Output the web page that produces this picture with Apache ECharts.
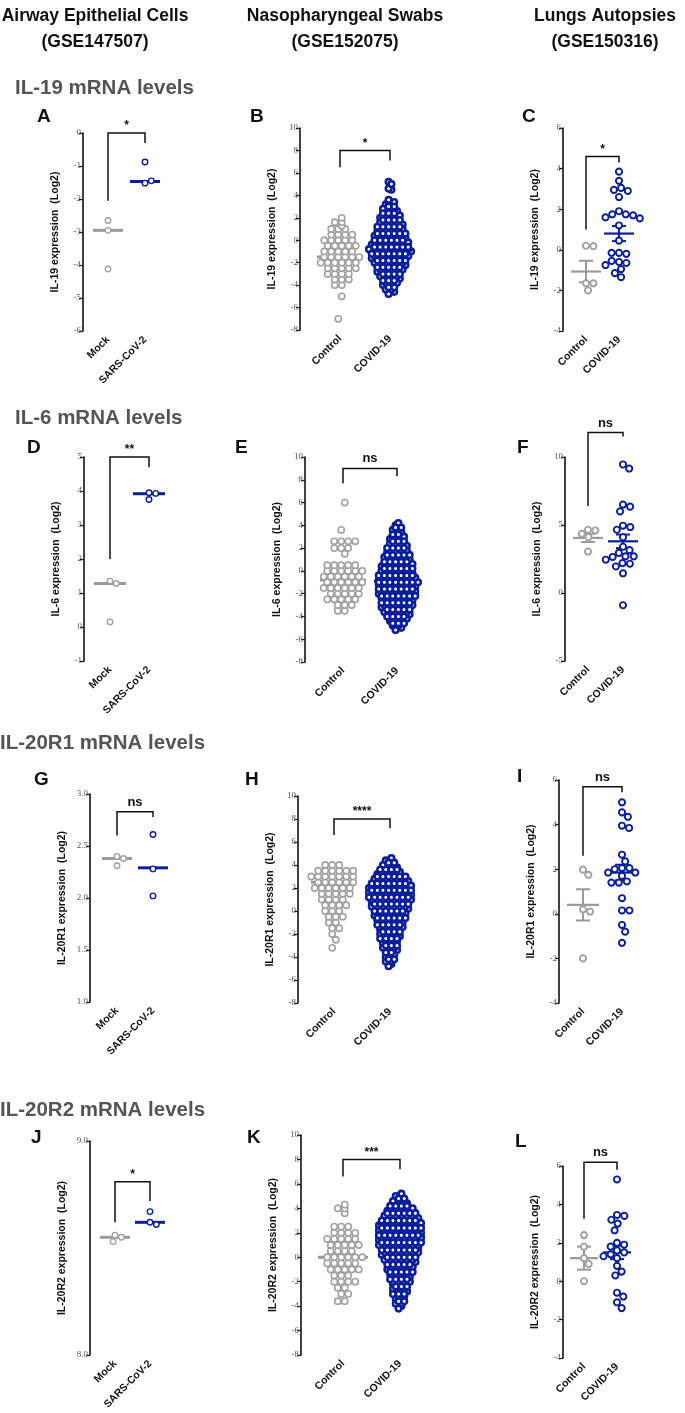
<!DOCTYPE html>
<html><head><meta charset="utf-8">
<script src="https://cdn.jsdelivr.net/npm/echarts@6/dist/echarts.min.js"></script>
<style>html,body{margin:0;padding:0;background:#fff}#c{width:685px;height:1413px}</style>
</head><body><div id="c"></div><script>
// ---------------- DATA ----------------
const colHeaders = ['Airway Epithelial Cells\n(GSE147507)', 'Nasopharyngeal Swabs\n(GSE152075)', 'Lungs Autopsies\n(GSE150316)'];
const rowTitles = ['IL-19 mRNA levels', 'IL-6 mRNA levels', 'IL-20R1 mRNA levels', 'IL-20R2 mRNA levels'];
const yNames = ['IL-19 expression  (Log2)', 'IL-6 expression  (Log2)', 'IL-20R1 expression  (Log2)', 'IL-20R2 expression  (Log2)'];
const cellCats = ['Mock', 'SARS-CoV-2'];
const patientCats = ['Control', 'COVID-19'];
// axis ranges [min, max, interval]
const A_axis = [-6, 0, 1], B_axis = [-8, 10, 2], C_axis = [-4, 6, 2];
const D_axis = [-1, 5, 1], E_axis = [-8, 10, 2], F_axis = [-5, 10, 5];
const G_axis = [1, 3, 0.5], H_axis = [-8, 10, 2], I_axis = [-4, 6, 2];
const J_axis = [8, 9, 1], K_axis = [-8, 10, 2], L_axis = [-4, 6, 2];

// Panel A (GSE147507, IL-19)
const A_ctrl = [-2.65, -2.95, -4.12];
const A_case = [-0.88, -1.52, -1.45];
const A_mid = [-2.95, -1.47];
const A_sig = ['*', 0.0, -2.05, -0.3];
// Panel B (GSE152075, IL-19) — [value, count]
const B_ctrl = [[2.0,1],[1.6,2],[1.3,1],[1.0,3],[0.5,4],[0.0,5],[-0.5,5],[-1.0,5],[-1.5,6],[-2.0,6],[-2.5,5],[-3.0,4],[-3.5,3],[-4.0,2],[-5.0,1],[-7.0,1]];
const B_case = [[5.2,1],[5.0,1],[4.6,1],[4.5,1],[3.6,1],[3.4,2],[3.2,2],[3.0,2],[2.8,3],[2.6,3],[2.4,3],[2.2,4],[2.0,4],[1.8,4],[1.6,4],[1.4,5],[1.2,5],[1.0,5],[0.8,5],[0.6,6],[0.4,6],[0.2,6],[0.0,6],[-0.2,7],[-0.4,7],[-0.6,7],[-0.8,8],[-1.0,8],[-1.2,7],[-1.4,7],[-1.6,7],[-1.8,6],[-2.0,6],[-2.2,6],[-2.4,5],[-2.6,5],[-2.8,5],[-3.0,4],[-3.2,4],[-3.4,4],[-3.6,3],[-3.8,3],[-4.0,3],[-4.2,2],[-4.4,2],[-4.6,2],[-4.8,1]];
const B_mid = [-1.5, -0.85];
const B_sig = ['*', 8, 6.5, 7.1];
// Panel C (GSE150316, IL-19)
const C_ctrl = [0.2, 0.18, -1.65, -1.65, -2.0];
const C_case = [3.85, 3.4, 3.05, 2.95, 2.9, 2.6, 1.9, 1.75, 1.75, 1.7, 1.6, 1.55, 1.2, 0.45, -0.15, -0.2, -0.15, -0.6, -0.65, -0.55, -0.75, -0.95, -1.15, -1.35];
const C_mean = [-1.07, 0.8], C_sem = [0.53, 0.37];
const C_sig = ['*', 4.6, 1.0, 4.3];
// Panel D
const D_ctrl = [1.35, 1.28, 0.15];
const D_case = [3.95, 3.93, 3.75];
const D_mid = [1.28, 3.92];
const D_sig = ['**', 5.0, 2.0, 4.7];
// Panel E
const E_ctrl = [[6.0,1],[3.6,1],[2.6,4],[2.0,3],[1.5,1],[0.5,5],[0.0,6],[-0.5,6],[-1.0,6],[-1.5,6],[-2.0,5],[-2.5,5],[-3.0,3],[-3.5,2]];
const E_case = [[4.2,1],[4.0,1],[3.8,2],[3.6,2],[3.4,2],[3.2,2],[3.0,3],[2.8,3],[2.6,3],[2.4,3],[2.2,4],[2.0,4],[1.8,4],[1.6,4],[1.4,5],[1.2,5],[1.0,5],[0.8,5],[0.6,6],[0.4,6],[0.2,6],[0.0,6],[-0.2,6],[-0.4,7],[-0.6,7],[-0.8,7],[-1.0,8],[-1.2,7],[-1.4,7],[-1.6,7],[-1.8,7],[-2.0,7],[-2.2,7],[-2.4,6],[-2.6,6],[-2.8,6],[-3.0,6],[-3.2,6],[-3.4,5],[-3.6,5],[-3.8,5],[-4.0,4],[-4.2,4],[-4.4,3],[-4.6,3],[-4.8,2],[-5.0,2],[-5.2,1]];
const E_mid = [-0.8, -0.9];
const E_sig = ['ns', 9.0, 7.7, 8.3];
// Panel F
const F_ctrl = [4.65, 4.6, 4.35, 4.1, 3.05];
const F_case = [9.45, 9.15, 6.5, 6.35, 6.0, 4.95, 4.85, 4.65, 4.1, 3.4, 3.15, 2.95, 2.7, 2.7, 2.65, 2.45, 2.2, 2.15, 1.95, 1.45, -0.9];
const F_mean = [4.05, 3.8], F_sem = [0.3, 0.5];
const F_sig = ['ns', 11.8, 6.4, 11.5];
// Panel G
const G_ctrl = [2.40, 2.38, 2.31];
const G_case = [2.61, 2.28, 2.02];
const G_mid = [2.38, 2.29];
const G_sig = ['ns', 2.83, 2.6, 2.78];
// Panel H
const H_ctrl = [[4.0,3],[3.5,6],[3.0,7],[2.5,6],[2.0,6],[1.5,5],[1.0,4],[0.5,4],[0.0,3],[-0.5,3],[-1.0,2],[-1.5,2],[-2.0,1],[-2.5,1],[-3.2,1]];
const H_case = [[4.6,1],[4.4,2],[4.2,2],[4.0,3],[3.8,3],[3.6,4],[3.4,4],[3.2,5],[3.0,6],[2.8,6],[2.6,7],[2.4,7],[2.2,8],[2.0,8],[1.8,8],[1.6,8],[1.4,8],[1.2,8],[1.0,8],[0.8,7],[0.6,7],[0.4,7],[0.2,7],[0.0,6],[-0.2,6],[-0.4,6],[-0.6,6],[-0.8,5],[-1.0,5],[-1.2,5],[-1.4,5],[-1.6,4],[-1.8,4],[-2.0,4],[-2.2,4],[-2.4,4],[-2.6,3],[-2.8,3],[-3.0,3],[-3.2,3],[-3.4,3],[-3.6,2],[-3.8,2],[-4.0,2],[-4.2,2],[-4.4,2],[-4.6,1],[-4.8,1]];
const H_mid = [2.5, 1.2];
const H_sig = ['****', 8, 6.6, 7.2];
// Panel I
const I_ctrl = [1.98, 1.75, 0.2, 0.1, -2.0];
const I_case = [5.0, 4.55, 4.35, 3.95, 3.85, 2.65, 2.35, 2.05, 2.05, 2.0, 1.85, 1.85, 1.7, 1.45, 1.4, 1.4, 0.7, 0.15, 0.15, -0.5, -0.8, -1.3];
const I_mean = [0.4, 1.85], I_sem = [0.7, 0.35];
const I_sig = ['ns', 5.7, 2.6, 5.45];
// Panel J
const J_ctrl = [8.56, 8.55, 8.53];
const J_case = [8.67, 8.62, 8.61];
const J_mid = [8.55, 8.62];
const J_sig = ['*', 8.81, 8.62, 8.72];
// Panel K
const K_ctrl = [[4.3,1],[4.0,2],[3.6,1],[2.5,3],[2.0,4],[1.5,5],[1.0,5],[0.5,4],[0.0,6],[-0.5,5],[-1.0,5],[-1.5,3],[-2.0,4],[-2.5,2],[-3.0,2],[-3.6,2]];
const K_case = [[5.2,1],[5.0,2],[4.8,2],[4.6,3],[4.4,3],[4.2,4],[4.0,5],[3.8,5],[3.6,6],[3.4,6],[3.2,7],[3.0,7],[2.8,8],[2.6,8],[2.4,8],[2.2,8],[2.0,8],[1.8,8],[1.6,8],[1.4,8],[1.2,8],[1.0,8],[0.8,7],[0.6,7],[0.4,7],[0.2,7],[0.0,6],[-0.2,6],[-0.4,6],[-0.6,5],[-0.8,5],[-1.0,5],[-1.2,5],[-1.4,4],[-1.6,4],[-1.8,4],[-2.0,4],[-2.2,3],[-2.4,3],[-2.6,3],[-2.8,3],[-3.0,3],[-3.2,2],[-3.4,2],[-3.6,2],[-3.8,2],[-4.0,1],[-4.2,1]];
const K_mid = [0.0, 1.7];
const K_sig = ['***', 8, 6.6, 7.2];
// Panel L
const L_ctrl = [2.4, 1.8, 1.2, 0.9, 0.0];
const L_case = [5.3, 3.45, 3.4, 3.2, 3.0, 2.65, 2.0, 1.9, 1.8, 1.6, 1.5, 1.4, 1.3, 1.2, 0.8, 0.5, 0.3, -0.6, -0.8, -1.1, -1.4];
const L_mean = [1.2, 1.5], L_sem = [0.6, 0.35];
const L_sig = ['ns', 6.2, 3.25, 5.8];

// ---------------- LAYOUT / STYLE ----------------
const GREY = '#a2a2a2', GREY_LINE = '#9a9a9a', BLUE = '#0b1f9a';
const SANS = '"Liberation Sans", Arial, sans-serif';
const SERIF = '"Liberation Serif", "Times New Roman", serif';
const panels = [
  {id:'A', L:83,  T:133,  B:331,  P1:108, P2:145, axis:A_axis, row:0, cats:cellCats, ctrl:A_ctrl, cas:A_case, mid:A_mid, sig:A_sig, d:5.5, bw:1.4, hw:15, lt:[45,117]},
  {id:'B', L:300, T:128,  B:330,  P1:340, P2:390, axis:B_axis, row:0, cats:patientCats, ctrl:B_ctrl, cas:B_case, mid:B_mid, sig:B_sig, d:6.2, bw:1.6, hw:23, blob:true, lt:[258,117]},
  {id:'C', L:563, T:128,  B:331,  P1:586, P2:619, axis:C_axis, row:0, cats:patientCats, ctrl:C_ctrl, cas:C_case, mean:C_mean, sem:C_sem, sig:C_sig, d:6.2, bw:1.9, hw:15, lt:[530,117]},
  {id:'D', L:84,  T:457,  B:661,  P1:110, P2:149, axis:D_axis, row:1, cats:cellCats, ctrl:D_ctrl, cas:D_case, mid:D_mid, sig:D_sig, d:5.5, bw:1.4, hw:16, lt:[35,448]},
  {id:'E', L:305, T:457,  B:662,  P1:343, P2:397, axis:E_axis, row:1, cats:patientCats, ctrl:E_ctrl, cas:E_case, mid:E_mid, sig:E_sig, d:6.2, bw:1.6, hw:23, blob:true, lt:[243,448]},
  {id:'F', L:565, T:457,  B:661,  P1:588, P2:623, axis:F_axis, row:1, cats:patientCats, ctrl:F_ctrl, cas:F_case, mean:F_mean, sem:F_sem, sig:F_sig, d:6.2, bw:1.9, hw:15, lt:[525,448]},
  {id:'G', L:90,  T:794,  B:1002, P1:117, P2:153, axis:G_axis, row:2, cats:cellCats, ctrl:G_ctrl, cas:G_case, mid:G_mid, sig:G_sig, d:5.5, bw:1.4, hw:15, dec:1, lt:[42,780]},
  {id:'H', L:298, T:796,  B:1003, P1:334, P2:390, axis:H_axis, row:2, cats:patientCats, ctrl:H_ctrl, cas:H_case, mid:H_mid, sig:H_sig, d:6.2, bw:1.6, hw:23, blob:true, lt:[253,780]},
  {id:'I', L:559, T:780,  B:1003, P1:583, P2:622, axis:I_axis, row:2, cats:patientCats, ctrl:I_ctrl, cas:I_case, mean:I_mean, sem:I_sem, sig:I_sig, d:6.2, bw:1.9, hw:16, lt:[525,777]},
  {id:'J', L:90,  T:1141, B:1355, P1:115, P2:150, axis:J_axis, row:3, cats:cellCats, ctrl:J_ctrl, cas:J_case, mid:J_mid, sig:J_sig, d:5.5, bw:1.4, hw:15, dec:1, lt:[39,1138]},
  {id:'K', L:301, T:1135, B:1355, P1:343, P2:400, axis:K_axis, row:3, cats:patientCats, ctrl:K_ctrl, cas:K_case, mid:K_mid, sig:K_sig, d:6.2, bw:1.6, hw:25, blob:true, lt:[255,1138]},
  {id:'L', L:563, T:1166, B:1358, P1:584, P2:617, axis:L_axis, row:3, cats:patientCats, ctrl:L_ctrl, cas:L_case, mean:L_mean, sem:L_sem, sig:L_sig, d:6.2, bw:1.9, hw:14, lt:[523,1142]}
];

// ---------------- helpers ----------------
function beeswarm(vals, d, pxY) {
  const placed = [], out = [];
  vals.forEach(v => {
    const y = v * pxY; const cands = [0];
    placed.forEach(p => { const dy = Math.abs(p.y - y); if (dy < d) { const dx = Math.sqrt(d * d - dy * dy); cands.push(p.x + dx, p.x - dx); } });
    cands.sort((a, b) => Math.abs(a) - Math.abs(b) || b - a);
    let x = 0;
    for (const c of cands) { if (placed.every(p => (p.x - c) ** 2 + (p.y - y) ** 2 >= d * d - 0.05)) { x = c; break; } }
    placed.push({x, y}); out.push([x, v]);
  });
  return out;
}
// grouped levels: one row per level (alternately shifted); rows can be drawn interleaved
function levelRows(pairs, sp, interleave) {
  const rows = pairs.slice().sort((a, b) => a[0] - b[0]);
  const order = interleave ? [1, 2, 0] : [0];
  const mod = interleave ? 3 : 1;
  const out = [];
  order.forEach(m => rows.forEach(([v, n], r) => {
    if (r % mod !== m) return;
    const sh = (r % 2) ? sp / 4 : -sp / 4;
    for (let i = 0; i < n; i++) out.push([(i - (n - 1) / 2) * sp + sh, v]);
  }));
  return out;
}

const grids = [], xAxes = [], yAxes = [], series = [], graphics = [];
panels.forEach((p, k) => {
  const [ymin, ymax, yint] = p.axis;
  const H = p.B - p.T, s = p.P2 - p.P1, pxY = H / (ymax - ymin);
  const xMin = 1 - (p.P1 - p.L) / s, xMax = 2 + 40 / s;
  grids.push({left: p.L, top: p.T, width: (xMax - xMin) * s, height: H, containLabel: false, outerBoundsMode: 'none'});
  xAxes.push({gridIndex: k, type: 'value', min: xMin, max: xMax, axisLine: {show: false}, axisTick: {show: false}, splitLine: {show: false},
    axisLabel: {customValues: [1, 2], formatter: v => p.cats[Math.round(v) - 1], rotate: 45, margin: 7,
      fontFamily: SANS, fontWeight: 'bold', fontSize: 10.5, color: '#111'}});
  yAxes.push({gridIndex: k, type: 'value', min: ymin, max: ymax, interval: yint, splitLine: {show: false},
    axisLine: {show: true, lineStyle: {color: '#111', width: 1.6}},
    axisTick: {show: true, length: 4, lineStyle: {color: '#111', width: 1.2}},
    axisLabel: {margin: 2, fontFamily: SERIF, fontSize: 9, color: '#555', formatter: v => p.dec ? v.toFixed(p.dec) : String(v)},
    name: yNames[p.row], nameLocation: 'middle', nameGap: 22,
    nameTextStyle: {fontFamily: SANS, fontWeight: 'bold', fontSize: 10.5, color: '#111'}});
  const toX = (cat, arr) => arr.map(([dx, v]) => [cat + dx / s, v]);
  const ctrlPts = p.blob ? toX(1, levelRows(p.ctrl, 7, false)) : toX(1, beeswarm(p.ctrl, p.d + 1.2, pxY));
  const casePts = p.blob ? toX(2, levelRows(p.cas, 5.6, true)) : toX(2, beeswarm(p.cas, p.d + 1.2, pxY));
  series.push({type: 'scatter', xAxisIndex: k, yAxisIndex: k, data: ctrlPts, symbol: 'circle', symbolSize: p.d, silent: true,
    itemStyle: {color: '#fff', borderColor: GREY, borderWidth: p.bw, opacity: 1}});
  series.push({type: 'scatter', xAxisIndex: k, yAxisIndex: k, data: casePts, symbol: 'circle', symbolSize: p.blob ? 5.6 : p.d, silent: true,
    itemStyle: {color: '#fff', borderColor: BLUE, borderWidth: p.blob ? 2.6 : p.bw, opacity: 1}});
  // center lines (median or mean ± SEM)
  const centers = p.mid ? p.mid : p.mean;
  const centerData = centers.map((m, i) => [i + 1, m, p.sem ? p.sem[i] : 0]);
  series.push({type: 'custom', xAxisIndex: k, yAxisIndex: k, silent: true, clip: false, data: centerData,
    renderItem: (params, api) => {
      const cx = api.value(0), m = api.value(1), se = api.value(2);
      const col = cx === 1 ? GREY_LINE : BLUE;
      const c = api.coord([cx, m]);
      const lw = p.sem ? 2.2 : 3;
      const ch = [{type: 'line', shape: {x1: c[0] - p.hw, y1: c[1], x2: c[0] + p.hw, y2: c[1]}, style: {stroke: col, lineWidth: lw}}];
      if (p.sem) {
        const a = api.coord([cx, m + se]), b = api.coord([cx, m - se]);
        ch.push({type: 'line', shape: {x1: a[0], y1: a[1], x2: b[0], y2: b[1]}, style: {stroke: col, lineWidth: 2}});
        ch.push({type: 'line', shape: {x1: a[0] - 7, y1: a[1], x2: a[0] + 7, y2: a[1]}, style: {stroke: col, lineWidth: 2}});
        ch.push({type: 'line', shape: {x1: b[0] - 7, y1: b[1], x2: b[0] + 7, y2: b[1]}, style: {stroke: col, lineWidth: 2}});
      }
      return {type: 'group', children: ch};
    }});
  // significance bracket
  const [txt, top, yl, yr] = p.sig;
  series.push({type: 'custom', xAxisIndex: k, yAxisIndex: k, silent: true, clip: false, data: [[1, 2, top, yl, yr]],
    renderItem: (params, api) => {
      const a = api.coord([api.value(0), api.value(3)]), b = api.coord([api.value(0), api.value(2)]);
      const c = api.coord([api.value(1), api.value(2)]), d = api.coord([api.value(1), api.value(4)]);
      const isNs = txt === 'ns';
      return {type: 'group', children: [
        {type: 'polyline', shape: {points: [a, b, c, d]}, style: {stroke: '#111', lineWidth: 1.5, fill: null}},
        {type: 'text', style: {text: txt, x: (b[0] + c[0]) / 2, y: b[1] - (isNs ? 3 : 1), textAlign: 'center', textVerticalAlign: 'bottom',
          font: 'bold ' + (isNs ? 13 : 12) + 'px ' + SANS, fill: '#111'}}
      ]};
    }});
  graphics.push({type: 'text', left: p.lt[0] - 8, top: p.lt[1] - 10, style: {text: p.id, font: 'bold 19px ' + SANS, fill: '#111'}});
});

[95, 345, 605].forEach((x, i) => {
  graphics.push({type: 'text', x: x, y: 3, style: {text: colHeaders[i], font: 'bold 17.5px ' + SANS, fill: '#111', textAlign: 'center', lineHeight: 26}});
});
[[15, 88], [15, 418], [0, 743], [0, 1110]].forEach(([x, y], i) => {
  graphics.push({type: 'text', x: x, y: y, style: {text: rowTitles[i], font: 'bold 20.5px ' + SANS, fill: '#555', textVerticalAlign: 'middle'}});
});

const chart = echarts.init(document.getElementById('c'), null, {renderer: 'canvas'});
chart.setOption({animation: false, backgroundColor: '#fff', grid: grids, xAxis: xAxes, yAxis: yAxes, series: series, graphic: graphics});
</script></body></html>
